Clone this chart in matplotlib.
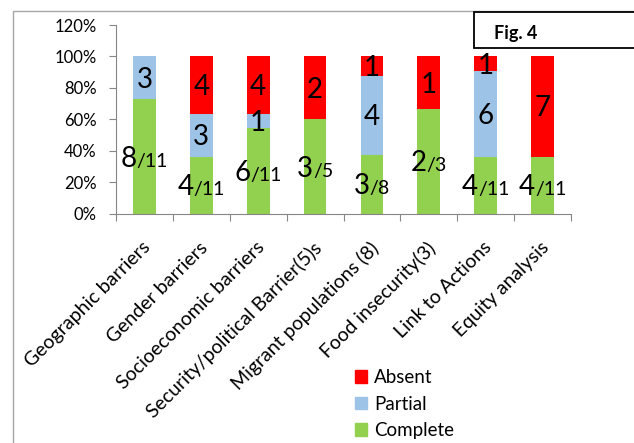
import matplotlib
matplotlib.use("Agg")
import matplotlib.pyplot as plt
import matplotlib.patches as mpatches
from matplotlib.transforms import offset_copy, ScaledTranslation
import numpy as np

plt.rcParams['font.family'] = ['Lato', 'DejaVu Sans']

categories = ["Geographic barriers", "Gender barriers", "Socioeconomic barriers",
              "Security/political Barrier(5)s", "Migrant populations (8)",
              "Food insecurity(3)", "Link to Actions", "Equity analysis"]
complete = [8, 4, 6, 3, 3, 2, 4, 4]
partial = [3, 3, 1, 0, 4, 0, 6, 0]
absent = [0, 4, 4, 2, 1, 1, 1, 7]
totals = [11, 11, 11, 5, 8, 3, 11, 11]
y_ticks = [0, 0.2, 0.4, 0.6, 0.8, 1.0, 1.2]
y_tick_labels = ["0%", "20%", "40%", "60%", "80%", "100%", "120%"]
series_names = ["Complete", "Partial", "Absent"]
colors = {"Complete": "#92D050", "Partial": "#9DC3E6", "Absent": "#FF0000"}

W, H, DPI = 634, 443, 100
fig = plt.figure(figsize=(W / DPI, H / DPI), dpi=DPI)
ax = fig.add_axes([116 / W, 1 - 213.7 / H, (571 - 116) / W, (213.7 - 25) / H])

x = np.arange(len(categories))
tot = np.array(totals, dtype=float)
c = np.array(complete) / tot
p = np.array(partial) / tot
a = np.array(absent) / tot
bw = 0.40
ax.bar(x, c, bw, color=colors["Complete"], label="Complete", zorder=2)
ax.bar(x, p, bw, bottom=c, color=colors["Partial"], label="Partial", zorder=2)
ax.bar(x, a, bw, bottom=c + p, color=colors["Absent"], label="Absent", zorder=2)

ax.set_xlim(-0.5, len(categories) - 0.5)
ax.set_ylim(0, 1.2)
ax.set_yticks(y_ticks)
ax.set_yticklabels(y_tick_labels, fontsize=12)
ax.set_xticks(np.arange(len(categories) + 1) - 0.5, minor=False)
ax.set_xticklabels([])
ax.set_xticks(x, minor=True)
ax.set_xticklabels(categories, minor=True, rotation=45, ha='right',
                   rotation_mode='anchor', fontsize=14)
ax.tick_params(axis='x', which='minor', length=0, pad=18)
ax.tick_params(axis='x', which='major', length=5, color='#868686')
ax.tick_params(axis='y', length=5, color='#868686', pad=9)
for lab in ax.get_xticklabels(minor=True):
    lab.set_transform(lab.get_transform() + ScaledTranslation(-2 / 72, 0, fig.dpi_scale_trans))
for s in ['top', 'right']:
    ax.spines[s].set_visible(False)
for s in ['left', 'bottom']:
    ax.spines[s].set_color('#868686')
ax.set_facecolor('none')

BIG, SMALL = 20, 14

def seg_label(xi, ymid, num, den=None):
    t1 = ax.text(xi, ymid, str(num), fontsize=BIG, ha='left', va='baseline', zorder=5)
    parts = [t1]
    if den is not None:
        t2 = ax.text(xi, ymid, "/" + str(den), fontsize=SMALL, ha='left', va='baseline', zorder=5)
        parts.append(t2)
    return parts

groups = []
for i in range(len(categories)):
    groups.append(seg_label(x[i], c[i] / 2, complete[i], totals[i]))
    if partial[i] > 0:
        groups.append(seg_label(x[i], c[i] + p[i] / 2, partial[i]))
    if absent[i] > 0:
        groups.append(seg_label(x[i], c[i] + p[i] + a[i] / 2, absent[i]))

fig.canvas.draw()
r = fig.canvas.get_renderer()
for g in groups:
    widths = [t.get_window_extent(r).width for t in g]
    total_w = sum(widths)
    start = -total_w / 2
    for t, w in zip(g, widths):
        t.set_transform(offset_copy(ax.transData, fig=fig, x=start, y=-0.36 * BIG * DPI / 72,
                                    units='dots'))
        start += w

# legend
handles = [mpatches.Patch(color=colors[n]) for n in ["Absent", "Partial", "Complete"]]
fig.legend(handles, ["Absent", "Partial", "Complete"], loc='center left',
           bbox_to_anchor=(355 / W, 1 - 404 / H), frameon=False, fontsize=13.5,
           handlelength=0.65, handleheight=0.65, handletextpad=0.35,
           labelspacing=0.5, borderpad=0, borderaxespad=0)

# outer frame
fig.add_artist(mpatches.Rectangle((13 / W, -0.1), 2, 1 - 11 / H + 0.1, transform=fig.transFigure,
                                  fill=False, edgecolor='#A6A6A6', lw=1))
# Fig. 4 box
fig.add_artist(mpatches.Rectangle((473.7 / W, 1 - 48 / H), 1, (48 - 11.7) / H, transform=fig.transFigure,
                                  facecolor='white', edgecolor='black', lw=1.3, zorder=10))
fig.text(494 / W, 1 - 34 / H, "Fig. 4", fontsize=13, fontweight='bold', ha='left', va='center', zorder=11)

fig.savefig("out.png", dpi=DPI)
